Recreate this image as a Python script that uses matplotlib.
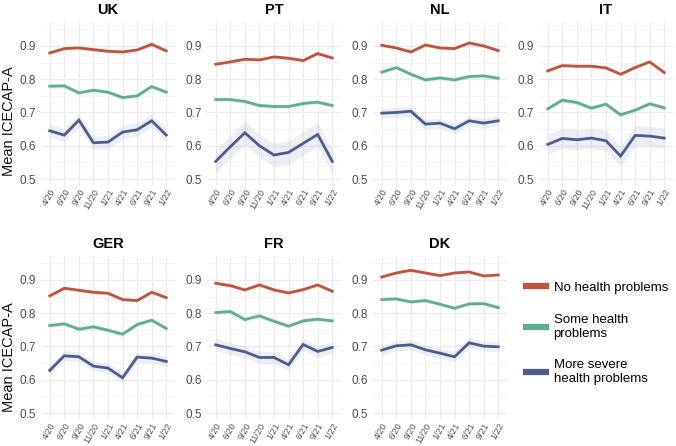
import matplotlib
matplotlib.use("Agg")
import matplotlib.pyplot as plt
from matplotlib.lines import Line2D
import numpy as np

plt.rcParams['font.family'] = ['Liberation Sans', 'DejaVu Sans']

dates = ["4/20", "6/20", "9/20", "11/20", "1/21", "4/21", "6/21", "9/21", "1/22"]
groups = ["No health problems", "Some health\nproblems", "More severe\nhealth problems"]
colors = ["#c0533c", "#5fae8c", "#4b5d90"]

uk_none = [0.879, 0.892, 0.894, 0.889, 0.884, 0.882, 0.888, 0.905, 0.885]
uk_some = [0.779, 0.780, 0.759, 0.767, 0.761, 0.745, 0.750, 0.778, 0.761]
uk_severe = [0.645, 0.632, 0.677, 0.609, 0.611, 0.641, 0.648, 0.675, 0.632]

pt_none = [0.845, 0.852, 0.860, 0.858, 0.867, 0.863, 0.856, 0.877, 0.864]
pt_some = [0.739, 0.739, 0.733, 0.721, 0.718, 0.718, 0.727, 0.731, 0.721]
pt_severe = [0.553, 0.597, 0.639, 0.600, 0.572, 0.580, 0.607, 0.634, 0.553]

nl_none = [0.902, 0.894, 0.882, 0.903, 0.894, 0.892, 0.909, 0.900, 0.886]
nl_some = [0.821, 0.835, 0.815, 0.798, 0.804, 0.798, 0.808, 0.810, 0.803]
nl_severe = [0.698, 0.700, 0.704, 0.665, 0.668, 0.651, 0.675, 0.668, 0.675]

it_none = [0.825, 0.841, 0.839, 0.839, 0.834, 0.815, 0.835, 0.852, 0.820]
it_some = [0.711, 0.737, 0.730, 0.713, 0.725, 0.693, 0.707, 0.726, 0.714]
it_severe = [0.604, 0.622, 0.618, 0.623, 0.615, 0.569, 0.631, 0.629, 0.623]

ger_none = [0.852, 0.875, 0.869, 0.863, 0.860, 0.841, 0.838, 0.863, 0.847]
ger_some = [0.763, 0.768, 0.752, 0.759, 0.749, 0.737, 0.766, 0.779, 0.754]
ger_severe = [0.628, 0.672, 0.669, 0.641, 0.635, 0.606, 0.668, 0.665, 0.655]

fr_none = [0.890, 0.883, 0.870, 0.885, 0.870, 0.861, 0.871, 0.885, 0.866]
fr_some = [0.802, 0.805, 0.781, 0.792, 0.776, 0.761, 0.777, 0.782, 0.777]
fr_severe = [0.705, 0.694, 0.684, 0.667, 0.667, 0.645, 0.706, 0.685, 0.697]

dk_none = [0.909, 0.921, 0.929, 0.921, 0.913, 0.921, 0.924, 0.912, 0.915]
dk_some = [0.841, 0.843, 0.834, 0.838, 0.827, 0.815, 0.828, 0.829, 0.817]
dk_severe = [0.689, 0.702, 0.705, 0.690, 0.680, 0.669, 0.711, 0.701, 0.699]

# half width of the confidence ribbons (none, some, severe)
uk_ci = [0.006, 0.007, 0.02]
pt_ci = [0.006, 0.007, 0.035]
nl_ci = [0.005, 0.006, 0.015]
it_ci = [0.006, 0.007, 0.03]
ger_ci = [0.006, 0.007, 0.015]
fr_ci = [0.006, 0.007, 0.018]
dk_ci = [0.005, 0.006, 0.015]

countries = [
    ("UK", [uk_none, uk_some, uk_severe], uk_ci),
    ("PT", [pt_none, pt_some, pt_severe], pt_ci),
    ("NL", [nl_none, nl_some, nl_severe], nl_ci),
    ("IT", [it_none, it_some, it_severe], it_ci),
    ("GER", [ger_none, ger_some, ger_severe], ger_ci),
    ("FR", [fr_none, fr_some, fr_severe], fr_ci),
    ("DK", [dk_none, dk_some, dk_severe], dk_ci),
]

fig = plt.figure(figsize=(6.76, 4.46), dpi=100)
fig.patch.set_facecolor("white")

W, H = 676, 446
lefts = [41, 207, 373, 539]
tops = [22, 256]
aw, ah = 134, 163

x = np.arange(len(dates))
for i, (name, series, ci) in enumerate(countries):
    r, c = divmod(i, 4)
    ax = fig.add_axes([lefts[c] / W, 1 - (tops[r] + ah) / H, aw / W, ah / H])
    for vals, col, hw in zip(series, colors, ci):
        v = np.array(vals)
        ax.fill_between(x, v - hw, v + hw, color="#b8c0d8", alpha=0.25, lw=0)
        ax.plot(x, v, color=col, lw=2.0, solid_joinstyle="miter")
    ax.set_xlim(-0.6, len(dates) - 0.4)
    ax.set_ylim(0.482, 0.972)
    ax.set_yticks([0.5, 0.6, 0.7, 0.8, 0.9])
    ax.set_yticks([0.55, 0.65, 0.75, 0.85, 0.95], minor=True)
    ax.set_xticks(x)
    ax.set_xticklabels(dates, rotation=60, fontsize=6.5, color="#555555",
                       ha="right", rotation_mode="anchor")
    ax.tick_params(axis="y", labelsize=8.5, labelcolor="#4d4d4d", length=0)
    ax.tick_params(axis="y", which="minor", length=0)
    ax.tick_params(axis="x", length=0, pad=1.5)
    ax.grid(True, which="major", color="#ebebeb", lw=0.9)
    ax.grid(True, which="minor", axis="y", color="#f3f3f3", lw=0.6)
    ax.set_axisbelow(True)
    for s in ax.spines.values():
        s.set_visible(False)
    ax.set_title(name, fontsize=10.5, fontweight="bold", pad=6)

for yc in [121, 357]:
    fig.text(9 / W, 1 - yc / H, "Mean ICECAP-A", rotation=90, fontsize=10.5,
             color="#111111", ha="center", va="center")

handles = [Line2D([0], [0], color=col, lw=4.5) for col in colors]
fig.legend(handles, groups, loc="upper left", bbox_to_anchor=(514 / W, 1 - 270 / H),
           frameon=False, fontsize=9.5, handlelength=1.5, labelspacing=1.5,
           handletextpad=0.6)

fig.savefig("out.png", dpi=100, facecolor="white")
